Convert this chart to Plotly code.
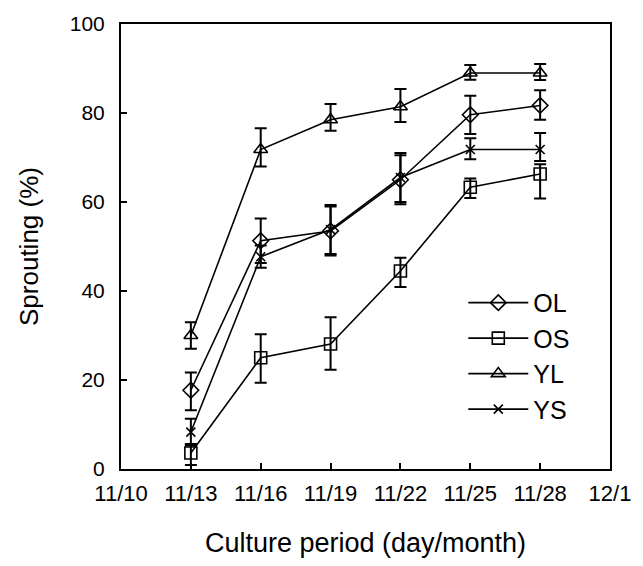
import plotly.graph_objects as go

dates = ["2000-11-13", "2000-11-16", "2000-11-19", "2000-11-22", "2000-11-25", "2000-11-28"]

ol = [17.7, 51.3, 53.5, 65.0, 79.6, 81.7]
ol_plus = [4.0, 5.0, 5.5, 5.5, 4.3, 3.4]
ol_minus = [4.5, 5.0, 5.5, 5.5, 4.3, 3.2]

os_ = [3.6, 25.0, 28.1, 44.5, 63.3, 66.3]
os_plus = [2.0, 5.3, 6.0, 3.0, 2.0, 2.2]
os_minus = [2.7, 5.6, 5.8, 3.6, 2.4, 5.5]

yl = [30.0, 71.8, 78.5, 81.4, 89.0, 89.0]
yl_plus = [3.0, 4.8, 3.5, 4.0, 1.8, 2.0]
yl_minus = [3.0, 3.8, 2.5, 3.4, 1.5, 1.6]

ys = [8.3, 47.7, 53.8, 65.5, 71.8, 71.8]
ys_plus = [3.0, 2.5, 5.5, 5.5, 2.5, 3.7]
ys_minus = [3.0, 2.5, 5.5, 5.5, 2.2, 2.6]

series = [
    ("OL", ol, ol_plus, ol_minus, "diamond-open", 12),
    ("OS", os_, os_plus, os_minus, "square-open", 12),
    ("YL", yl, yl_plus, yl_minus, "triangle-up-open", 12),
    ("YS", ys, ys_plus, ys_minus, "x-thin-open", 9),
]

fig = go.Figure()
for name, vals, ep, em, sym, sz in series:
    fig.add_trace(go.Scatter(
        x=dates, y=vals, name=name, mode="lines+markers",
        line=dict(color="black", width=1.6),
        marker=dict(symbol=sym, size=sz, color="black",
                    line=dict(color="black", width=1.6)),
        error_y=dict(type="data", symmetric=False, array=ep, arrayminus=em,
                     color="black", thickness=2, width=6),
    ))

font = "Liberation Sans, Arial, sans-serif"
fig.update_layout(
    width=643, height=566,
    margin=dict(l=121, r=32, t=16, b=97),
    paper_bgcolor="white", plot_bgcolor="white",
    font=dict(family=font, color="black", size=21),
    showlegend=True,
    legend=dict(x=0.70, y=0.425, xanchor="left", yanchor="top",
                bgcolor="rgba(0,0,0,0)", font=dict(size=25),
                itemwidth=60),
    xaxis=dict(
        type="date", range=["2000-11-10", "2000-12-01"],
        tick0="2000-11-10", dtick=3 * 86400000, tickformat="%-m/%-d",
        showgrid=False, zeroline=False,
        showline=True, linecolor="black", linewidth=2, mirror=True,
        ticks="inside", ticklen=6, tickwidth=2, tickcolor="black",
        tickfont=dict(size=22), ticklabelstandoff=4,
        title=dict(text="Culture period (day/month)", font=dict(size=27), standoff=28),
    ),
    yaxis=dict(
        range=[0, 100], dtick=20,
        showgrid=False, zeroline=False,
        showline=True, linecolor="black", linewidth=2, mirror=True,
        ticks="inside", ticklen=6, tickwidth=2, tickcolor="black",
        tickfont=dict(size=21), ticklabelstandoff=10,
        title=dict(text="Sprouting (%)", font=dict(size=26), standoff=24),
    ),
)

fig.write_html("out.html", config={"displayModeBar": False},
               post_script="document.body.style.margin='0';document.body.style.overflow='hidden';")
